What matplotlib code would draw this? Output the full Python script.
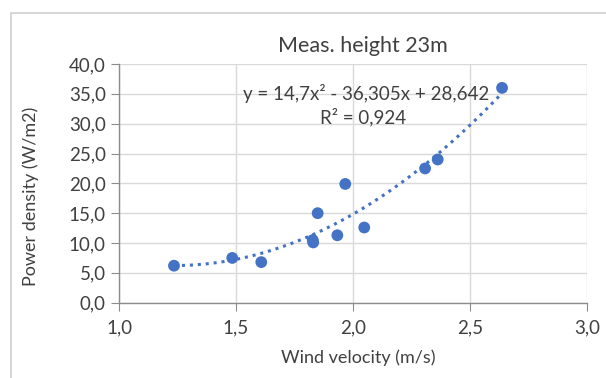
import numpy as np
import matplotlib
matplotlib.use("Agg")
from matplotlib import pyplot as plt
from matplotlib.patches import Rectangle

wind_velocity = [1.235, 1.484, 1.608, 1.828, 1.830, 1.849, 1.933, 1.967, 2.048, 2.308, 2.362, 2.637]
power_density = [6.2, 7.5, 6.8, 10.5, 10.1, 15.0, 11.3, 19.9, 12.6, 22.5, 24.0, 36.0]

# trendline coefficients as printed in the chart (a, b, c)
trend_coef = [14.7, -36.305, 28.642]
r_squared = "0,924"

x_ticks = [1.0, 1.5, 2.0, 2.5, 3.0]
y_ticks = [0, 5, 10, 15, 20, 25, 30, 35, 40]

blue = "#4472C4"
grey_text = "#404040"

plt.rcParams['font.family'] = ['Lato', 'DejaVu Sans']

fig = plt.figure(figsize=(6.06, 3.78), dpi=100)
ax = fig.add_axes([119 / 606, 1 - 302.7 / 378, (587 - 119) / 606, (302.7 - 64) / 378])

# chart border (cut off at right and bottom like the screenshot)
fig.patches.append(Rectangle((11 / 606, -0.1), 1.2, 1 - 13 / 378 + 0.1, transform=fig.transFigure,
                             fill=False, edgecolor="#d0d0d0", linewidth=1.2))

xs = np.linspace(min(wind_velocity), max(wind_velocity), 200)
ys = np.polyval(trend_coef, xs)
ax.plot(xs, ys, color=blue, linestyle=(0, (1, 1.6)), linewidth=2.2, zorder=2)
ax.scatter(wind_velocity, power_density, s=72, color=blue, zorder=3, edgecolors="none")

ax.set_xlim(1.0, 3.0)
ax.set_ylim(0, 40)
ax.set_xticks(x_ticks)
ax.set_yticks(y_ticks)
ax.set_xticklabels([("%.1f" % v).replace('.', ',') for v in x_ticks])
ax.set_yticklabels([("%.1f" % v).replace('.', ',') for v in y_ticks])
ax.grid(True, color="#d9d9d9", linewidth=1.0)
ax.set_axisbelow(True)

for s in ['top', 'right']:
    ax.spines[s].set_visible(False)
for s in ['left', 'bottom']:
    ax.spines[s].set_color("#8c8c8c")
    ax.spines[s].set_linewidth(1.0)
ax.tick_params(axis='both', direction='out', length=6, color="#8c8c8c",
               labelsize=13.5, labelcolor=grey_text)
ax.tick_params(axis='x', pad=6)

fig.text(363 / 606, 1 - 46 / 378, "Meas. height 23m", ha='center', va='center',
         fontsize=15.5, color=grey_text)
ax.set_xlabel("Wind velocity (m/s)", fontsize=13, color=grey_text, va='center')
ax.xaxis.set_label_coords((358 - 119) / 468, -(358 - 302.7) / 238.7)
ax.set_ylabel("Power density (W/m2)", fontsize=13, color=grey_text, va='center')
ax.yaxis.set_label_coords((31 - 119) / 468, (302.7 - 196) / 238.7)

eq = "y = %sx² - %sx + %s" % (str(trend_coef[0]).replace('.', ','),
                               str(-trend_coef[1]).replace('.', ','),
                               str(trend_coef[2]).replace('.', ','))
ax.text(2.055, 35.0, eq, ha='center', va='center', fontsize=13.5, color=grey_text)
ax.text(2.045, 31.1, "R² = " + r_squared, ha='center', va='center', fontsize=13.5, color=grey_text)

fig.savefig("out.png", dpi=100)
